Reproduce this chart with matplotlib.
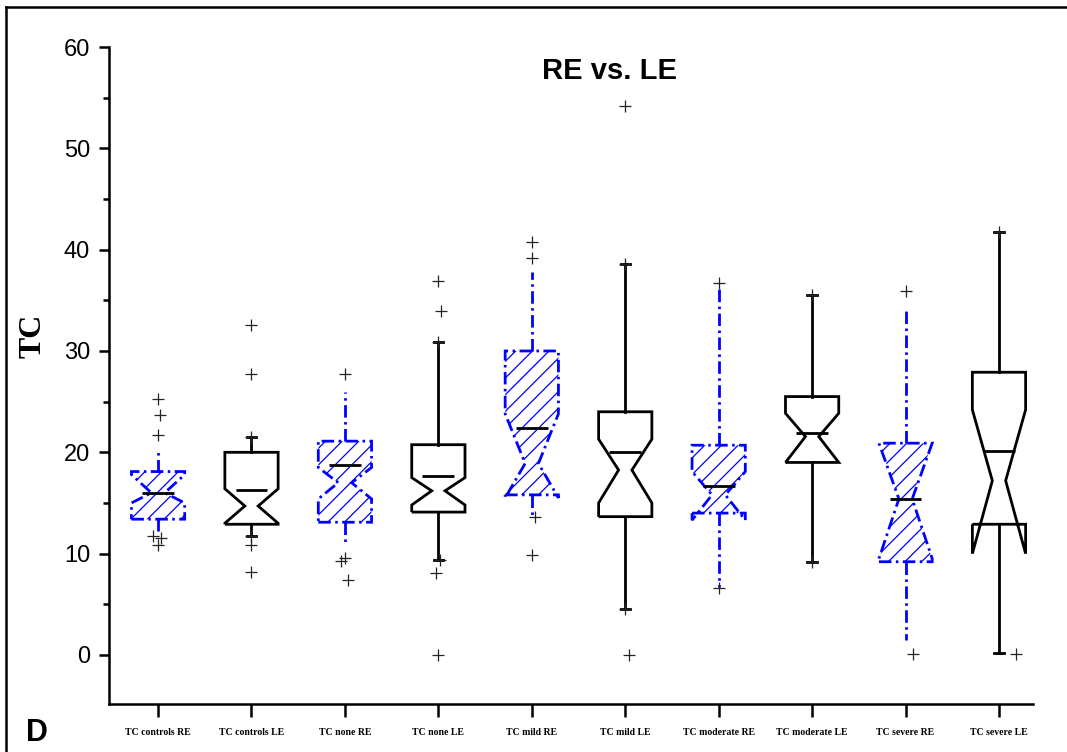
import numpy as np
import matplotlib
matplotlib.use("Agg")
import matplotlib.pyplot as plt
from matplotlib.path import Path
from matplotlib.lines import Line2D
from matplotlib.ticker import MultipleLocator

# ---------------- data ----------------
categories = ['TC controls RE', 'TC controls LE', 'TC none RE', 'TC none LE',
              'TC mild RE', 'TC mild LE', 'TC moderate RE', 'TC moderate LE',
              'TC severe RE', 'TC severe LE']
q1 = [13.4, 12.9, 13.1, 14.1, 15.8, 13.65, 14.0, 19.0, 9.2, 12.9]
q3 = [18.1, 20.0, 21.1, 20.75, 30.0, 24.0, 20.7, 25.5, 20.9, 27.9]
centre_line = [16.0, 16.3, 18.7, 17.7, 22.4, 20.0, 16.7, 21.9, 15.4, 20.1]
notch_mid = [16.0, 14.7, 17.0, 16.2, 18.9, 18.25, 15.8, 21.55, 15.4, 17.2]
notch_lo = [15.0, 13.0, 15.4, 14.8, 15.5, 15.0, 13.3, 19.0, 9.5, 10.0]
notch_hi = [17.8, 16.4, 18.5, 17.5, 23.8, 21.3, 18.1, 23.85, 20.9, 24.2]
whisker_lo = [12.2, 11.7, 11.0, 9.4, 13.7, 4.5, 6.7, 9.2, 1.5, 0.15]
whisker_hi = [20.2, 21.5, 26.0, 30.9, 37.8, 38.6, 36.3, 35.5, 34.2, 41.7]
outliers = [
    [25.3, 23.7, 21.7, 11.7, 11.5, 10.9],
    [32.6, 27.7, 21.5, 11.7, 10.9, 8.2],
    [27.7, 9.6, 9.3, 7.4],
    [36.9, 33.9, 30.9, 9.4, 8.1, 0.0],
    [40.8, 39.2, 13.6, 9.9],
    [54.2, 38.6, 4.5, 0.0],
    [36.7, 6.6],
    [35.5, 9.2],
    [35.9, 0.07],
    [41.7, 0.1],
]
outlier_jitter = [
    [0, 0.02, 0, -0.05, 0.03, 0],
    [0, 0, 0, 0, 0, 0],
    [0, 0, -0.045, 0.035],
    [0, 0.025, 0, 0.02, -0.02, 0],
    [0, 0, 0.035, 0],
    [0, 0, 0, 0.035],
    [0, 0],
    [0, 0],
    [0, 0.08],
    [0, 0.18],
]
y_ticks = [0, 10, 20, 30, 40, 50, 60]

# ---------------- style ----------------
plt.rcParams['hatch.linewidth'] = 0.9
BLUE = '#0000FF'
DASHDOT = (0, (4.5, 1.6, 0.9, 1.6))
W = 0.57
LW = 2.0

fig = plt.figure(figsize=(10.67, 7.52), dpi=100)
fig.patch.set_facecolor('white')
ax = fig.add_axes([109 / 1067, 48 / 752, 924 / 1067, 657 / 752])

positions = np.arange(1, len(categories) + 1)
stats = []
for i in range(len(categories)):
    stats.append(dict(med=notch_mid[i], q1=q1[i], q3=q3[i],
                      whislo=whisker_lo[i], whishi=whisker_hi[i],
                      cilo=notch_lo[i], cihi=notch_hi[i], fliers=[]))

re_idx = list(range(0, len(categories), 2))
le_idx = list(range(1, len(categories), 2))

res_re = ax.bxp([stats[i] for i in re_idx], positions=positions[re_idx],
                widths=W, capwidths=0.1, shownotches=True, showfliers=False,
                patch_artist=True, manage_ticks=False,
                boxprops=dict(facecolor='white', edgecolor=BLUE, linewidth=LW,
                              linestyle=DASHDOT, hatch='//'),
                whiskerprops=dict(color=BLUE, linewidth=LW, linestyle=DASHDOT),
                capprops=dict(visible=False),
                medianprops=dict(visible=False))
res_le = ax.bxp([stats[i] for i in le_idx], positions=positions[le_idx],
                widths=W, capwidths=0.1, shownotches=True, showfliers=False,
                patch_artist=True, manage_ticks=False,
                boxprops=dict(facecolor='white', edgecolor='black', linewidth=LW),
                whiskerprops=dict(color='black', linewidth=LW),
                capprops=dict(color='black', linewidth=LW),
                medianprops=dict(visible=False))

# narrow the notch waist (Origin style)
for res, idx in ((res_re, re_idx), (res_le, le_idx)):
    for patch, i in zip(res['boxes'], idx):
        p = positions[i]
        verts = np.array(patch.get_path().vertices, dtype=float).copy()
        verts[3, 0] = p + W * 0.125
        verts[8, 0] = p - W * 0.125
        newp = Path(verts)
        try:
            patch.set_path(newp)
        except AttributeError:
            patch._path = newp

# centre lines
ax.hlines(centre_line, positions - 0.17, positions + 0.17, colors='black',
          linewidth=LW, zorder=5)

# outliers
for i in range(len(categories)):
    xs = positions[i] + np.array(outlier_jitter[i])
    ax.plot(xs, outliers[i], linestyle='none', marker='+', markersize=8,
            markeredgewidth=0.9, color='#222222', zorder=6)

# ---------------- axes ----------------
ax.set_xlim(0.475, 10.364)
ax.set_ylim(-4.84, 60)
ax.spines['top'].set_visible(False)
ax.spines['right'].set_visible(False)
ax.spines['left'].set_linewidth(1.8)
ax.spines['bottom'].set_linewidth(1.8)

ax.set_xticks(positions)
ax.set_xticklabels(categories, fontfamily='Liberation Serif', fontweight='bold',
                   fontsize=7)
ax.set_yticks(y_ticks)
ax.yaxis.set_minor_locator(MultipleLocator(5))
ax.tick_params(axis='x', direction='out', length=9, width=1.8, pad=8)
ax.tick_params(axis='y', which='major', direction='out', length=7.5, width=1.8,
               pad=6, labelsize=17)
ax.tick_params(axis='y', which='minor', direction='out', length=4.5, width=1.8)
for lab in ax.get_yticklabels():
    lab.set_fontfamily('Liberation Sans')

ax.set_ylabel('TC', fontfamily='Liberation Serif', fontweight='bold', fontsize=23)
ax.yaxis.set_label_coords(-0.067, 0.56)

ax.text(0.542, 0.964, 'RE vs. LE', transform=ax.transAxes, ha='center',
        va='center', fontfamily='Liberation Sans', fontweight='bold', fontsize=21)

fig.text(37 / 1067, 1 - 733 / 752, 'D', ha='center', va='center',
         fontfamily='Liberation Sans', fontweight='bold', fontsize=22)

# figure frame (left and top edges visible)
fx = 6 / 1067
fy = 1 - 7 / 752
fig.add_artist(Line2D([fx, fx], [-0.01, fy], transform=fig.transFigure,
                      color='black', linewidth=1.8))
fig.add_artist(Line2D([fx, 1.01], [fy, fy], transform=fig.transFigure,
                      color='black', linewidth=1.8))

fig.savefig('out.png', dpi=100, facecolor='white')
